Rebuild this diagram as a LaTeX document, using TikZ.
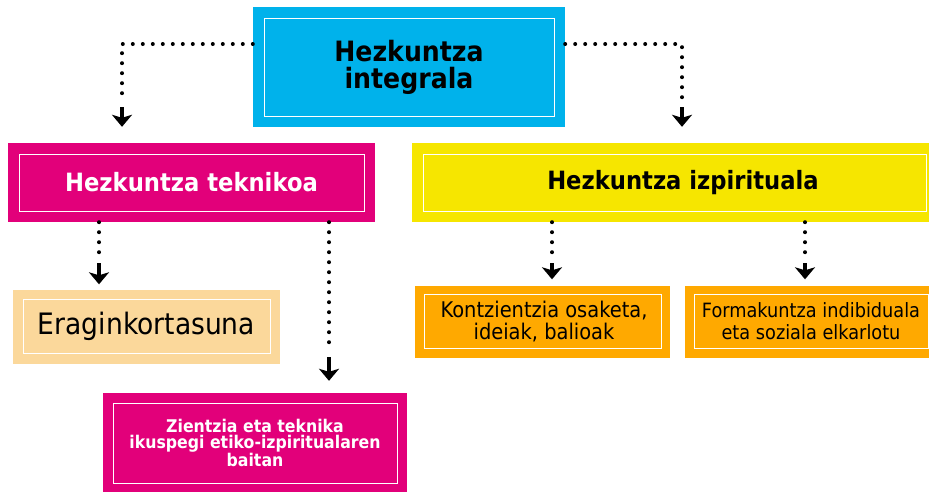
\documentclass[tikz,border=0pt]{standalone}
\usepackage{fontspec}
\setmainfont{DejaVu Sans}[FakeStretch=0.9]
\usetikzlibrary{arrows.meta, positioning}

\definecolor{cblue}{RGB}{0,178,235}
\definecolor{cmagenta}{RGB}{226,0,122}
\definecolor{cyellow}{RGB}{246,230,0}
\definecolor{cpeach}{RGB}{251,216,155}
\definecolor{corange}{RGB}{255,169,0}

\begin{document}
\begin{tikzpicture}[x=1pt, y=-1pt,
  framebox/.style n args={4}{fill=#1, minimum width=#2, minimum height=#3, inner sep=0pt, align=center,
    path picture={\draw[white, line width=1pt] ([shift={(#4,-#4)}]path picture bounding box.north west) rectangle ([shift={(-#4,#4)}]path picture bounding box.south east);}},
  dots/.style={line width=4pt, line cap=round, dash pattern=on 0pt off 10pt},
  tip/.style={line width=4pt, -{Stealth[length=12pt, width=20pt, inset=3pt]}}]
\useasboundingbox (0,0) rectangle (929,491);
% boxes
\node[framebox={cblue}{312pt}{120pt}{11pt}, font=\bfseries\fontsize{28}{27}\selectfont] (integ) at (409,67) {Hezkuntza\\integrala};
\node[framebox={cmagenta}{367pt}{79pt}{11pt}, text=white, font=\bfseries\fontsize{25.2}{29}\selectfont] (tek) at (191.5,182.5) {Hezkuntza teknikoa};
\node[framebox={cyellow}{525pt}{79pt}{11pt}, font=\bfseries\fontsize{25.2}{29}\selectfont] (izp) at (674.5,182.5) {\hspace*{17pt}Hezkuntza izpirituala};
\node[framebox={cpeach}{267pt}{74pt}{10pt}, font=\fontsize{29.5}{33}\selectfont] (era) at (146.5,326.5) {Eraginkortasuna};
\node[framebox={cmagenta}{304pt}{100pt}{10pt}, text=white, font=\bfseries\fontsize{17.5}{16.5}\selectfont] (zie) at (255,443) {Zientzia eta teknika\\ikuspegi etiko-izpiritualaren\\baitan};
\node[framebox={corange}{255pt}{72pt}{9pt}, font=\fontsize{21.6}{22}\selectfont] (kon) at (542.5,321.5) {\hspace*{3pt}Kontzientzia osaketa,\\\hspace*{3pt}ideiak, balioak};
\node[framebox={corange}{252pt}{72pt}{9pt}, font=\fontsize{19.7}{22}\selectfont] (form) at (811,321.5) {Formakuntza indibiduala\\eta soziala elkarlotu};
% connectors
\coordinate (a1) at (122,100);
\coordinate (a2) at (682,100);
\coordinate (a3) at (99,256);
\coordinate (a4) at (329,350);
\coordinate (a5) at (552,256);
\coordinate (a6) at (805,256);
\draw[dots] ([yshift=23pt]integ.west) -| (a1);
\draw[tip] ([yshift=-7pt]a1) -- (a1 |- tek.north) [shorten >=16pt];
\draw[dots] ([yshift=23pt]integ.east) -| (a2);
\draw[tip] ([yshift=-7pt]a2) -- (a2 |- izp.north) [shorten >=16pt];
\draw[dots] (a3 |- tek.south) -- (a3);
\draw[tip] ([yshift=-7pt]a3) -- (a3 |- era.north) [shorten >=5pt];
\draw[dots] (a4 |- tek.south) -- (a4);
\draw[tip] ([yshift=-7pt]a4) -- (a4 |- zie.north) [shorten >=12pt];
\draw[dots] (a5 |- izp.south) -- (a5);
\draw[tip] ([yshift=-7pt]a5) -- (a5 |- kon.north) [shorten >=6pt];
\draw[dots] (a6 |- izp.south) -- (a6);
\draw[tip] ([yshift=-7pt]a6) -- (a6 |- form.north) [shorten >=6pt];
\end{tikzpicture}
\end{document}
